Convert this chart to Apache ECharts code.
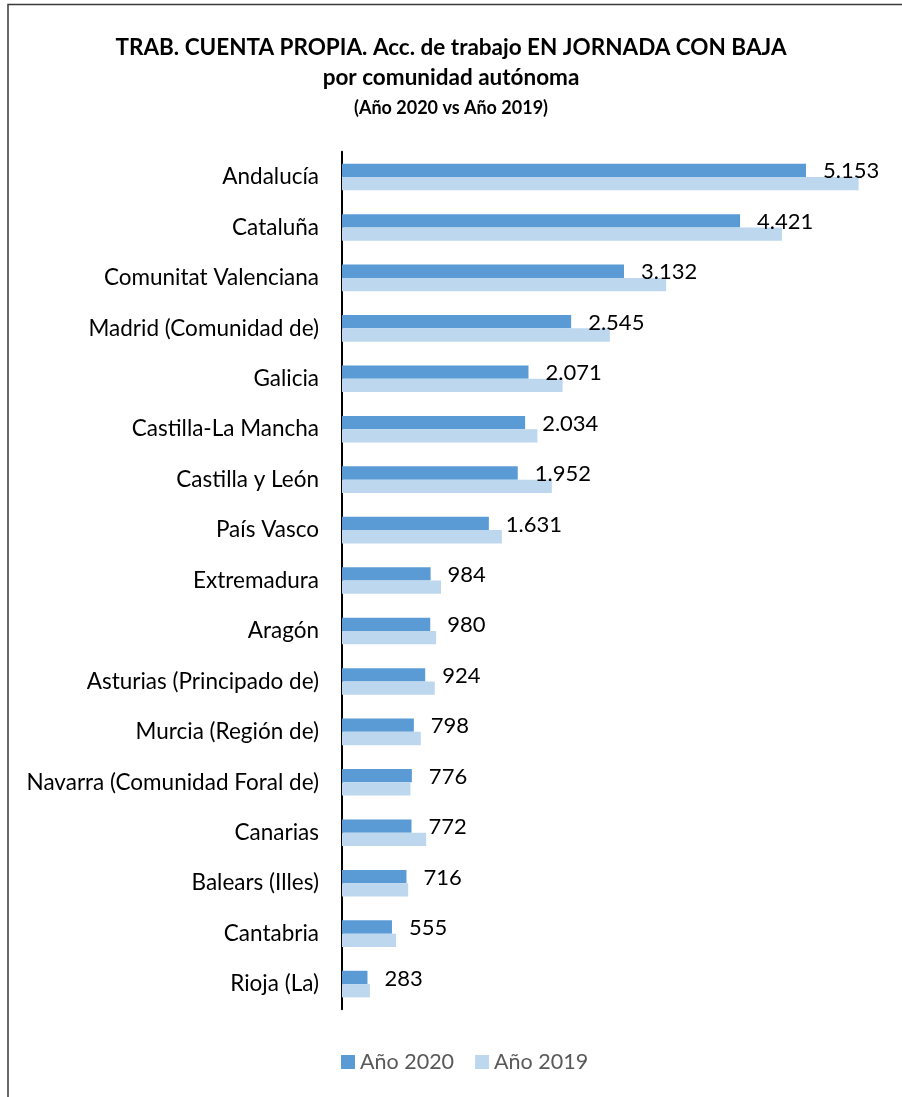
<!DOCTYPE html>
<html>
<head>
<meta charset="utf-8">
<script src="https://cdn.jsdelivr.net/npm/echarts@6/dist/echarts.min.js"></script>
<style>html,body{margin:0;padding:0;background:#fff;}#c{width:902px;height:1097px;}</style>
</head>
<body>
<div id="c"></div>
<script>
const categories = ["Andalucía","Cataluña","Comunitat Valenciana","Madrid (Comunidad de)","Galicia","Castilla-La Mancha","Castilla y León","País Vasco","Extremadura","Aragón","Asturias (Principado de)","Murcia (Región de)","Navarra (Comunidad Foral de)","Canarias","Balears (Illes)","Cantabria","Rioja (La)"];
const values2020 = [5153,4421,3132,2545,2071,2034,1952,1631,984,980,924,798,776,772,716,555,283];
const values2019 = [5738,4886,3600,2975,2450,2170,2330,1775,1100,1045,1030,875,760,935,735,600,310];
const seriesNames = ["Año 2020","Año 2019"];

const fmt = v => String(v).replace(/\B(?=(\d{3})+(?!\d))/g, '.');
const FONT = 'Lato, "Open Sans", sans-serif';
const chart = echarts.init(document.getElementById('c'), null, {renderer:'canvas'});
chart.setOption({
  animation:false,
  backgroundColor:'#fff',
  title:{
    text:'TRAB. CUENTA PROPIA. Acc. de trabajo EN JORNADA CON BAJA\npor comunidad autónoma',
    subtext:'(Año 2020 vs Año 2019)',
    left:'center', top:33, itemGap:4, padding:0,
    textStyle:{fontFamily:FONT,fontSize:22.5,fontWeight:'bold',color:'#000',lineHeight:30},
    subtextStyle:{fontFamily:FONT,fontSize:18,fontWeight:'bold',color:'#000',lineHeight:22}
  },
  graphic:[{type:'rect',shape:{x:8,y:4.5,width:920,height:1120},style:{fill:'none',stroke:'#3a3a3a',lineWidth:1.5},silent:true}],
  legend:{
    bottom:24,left:341,padding:0,itemWidth:14,itemHeight:14,itemGap:21,icon:'rect',
    textStyle:{fontFamily:FONT,fontSize:21.5,color:'#595959'},
    data:seriesNames
  },
  grid:{left:342,top:151.8,width:6000/11.106,height:857.5,containLabel:false},
  xAxis:{type:'value',min:0,max:6000,show:false},
  yAxis:{type:'category',data:categories,inverse:true,
    axisLine:{show:true,lineStyle:{color:'#000',width:2}},
    axisTick:{show:false},
    axisLabel:{fontFamily:FONT,fontSize:22.5,color:'#000',margin:23}
  },
  series:[
    {name:seriesNames[0],type:'bar',data:values2020,barWidth:13.3,barGap:'0%',
     itemStyle:{color:'#5B9BD5'},
     label:{show:true,position:'right',distance:17,offset:[0,1],formatter:p=>fmt(p.value),fontFamily:FONT,fontSize:22,color:'#000'}},
    {name:seriesNames[1],type:'bar',data:values2019,barWidth:13.3,barGap:'0%',
     itemStyle:{color:'#BDD7EE'}}
  ]
});
</script>
</body>
</html>
